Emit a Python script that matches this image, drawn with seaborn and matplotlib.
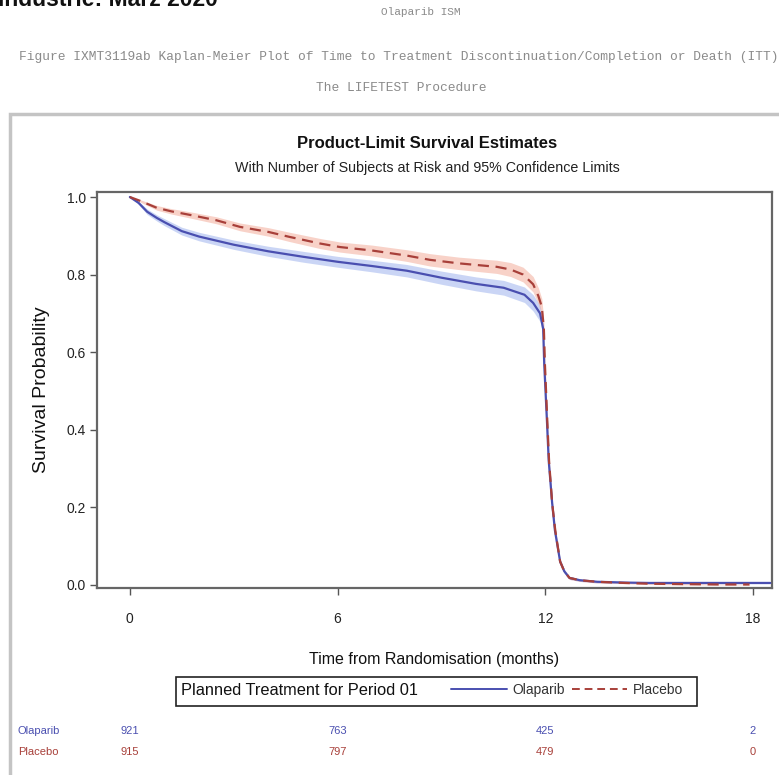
import matplotlib
matplotlib.use("Agg")
import matplotlib.pyplot as plt
import matplotlib.transforms as mtransforms
from matplotlib.lines import Line2D
from matplotlib.patches import Rectangle
import numpy as np
import pandas as pd
import seaborn as sns

# Kaplan-Meier estimates (months, survival probability) and 95% CI half-widths
olaparib_t = [0, 0.25, 0.5, 0.78, 1.0, 1.5, 2.0, 3.0, 4.0, 5.0, 6.0, 7.0, 8.0, 9.0,
              10.0, 10.8, 11.4, 11.65, 11.85, 11.94, 11.97, 12.05, 12.1, 12.2, 12.28,
              12.43, 12.55, 12.7, 13.0, 13.5, 14.3, 15.0, 16.0, 17.0, 18.0, 18.5]
olaparib_s = [1.0, 0.985, 0.962, 0.946, 0.935, 0.912, 0.898, 0.877, 0.860, 0.846, 0.833,
              0.822, 0.810, 0.792, 0.776, 0.766, 0.748, 0.727, 0.700, 0.660, 0.570, 0.420,
              0.320, 0.210, 0.140, 0.060, 0.035, 0.018, 0.012, 0.008, 0.006, 0.005, 0.005,
              0.005, 0.005, 0.005]
olaparib_ci = [0.0, 0.004, 0.007, 0.008, 0.009, 0.010, 0.011, 0.012, 0.013, 0.014, 0.014,
               0.015, 0.016, 0.017, 0.018, 0.019, 0.020, 0.021, 0.021, 0.020, 0.018, 0.015,
               0.013, 0.011, 0.009, 0.006, 0.005, 0.004, 0.003, 0.003, 0.002, 0.002, 0.002,
               0.002, 0.002, 0.002]

placebo_t = [0, 0.3, 0.78, 1.2, 1.73, 2.5, 3.18, 4.0, 4.62, 5.5, 6.07, 7.0, 8.0, 8.67,
             9.5, 10.6, 11.0, 11.36, 11.65, 11.8, 11.9, 11.96, 11.99, 12.06, 12.11, 12.2,
             12.29, 12.43, 12.55, 12.7, 13.0, 13.5, 14.3, 15.0, 16.0, 17.0, 17.9]
placebo_s = [1.0, 0.99, 0.972, 0.963, 0.954, 0.940, 0.923, 0.910, 0.897, 0.880, 0.871,
             0.862, 0.849, 0.838, 0.829, 0.820, 0.813, 0.800, 0.775, 0.745, 0.717, 0.660,
             0.570, 0.420, 0.320, 0.210, 0.140, 0.060, 0.035, 0.018, 0.012, 0.008, 0.005,
             0.003, 0.002, 0.001, 0.001]
placebo_ci = [0.0, 0.003, 0.006, 0.007, 0.008, 0.009, 0.010, 0.011, 0.012, 0.013, 0.013,
              0.014, 0.015, 0.016, 0.016, 0.017, 0.018, 0.019, 0.020, 0.021, 0.021, 0.020,
              0.018, 0.015, 0.013, 0.011, 0.009, 0.006, 0.005, 0.004, 0.003, 0.003, 0.002,
              0.002, 0.002, 0.001, 0.001]

groups = ["Olaparib", "Placebo"]
risk_times = [0, 6, 12, 18]
olaparib_at_risk = [921, 763, 425, 2]
placebo_at_risk = [915, 797, 479, 0]

x_ticks = [0, 6, 12, 18]
y_ticks = [0.0, 0.2, 0.4, 0.6, 0.8, 1.0]

blue = "#4a4fb0"
red = "#a8403a"
blue_band = "#9fb4ee"
red_band = "#f3ad9c"

sns.set_theme(style="white")
sans = ["Liberation Sans Narrow", "Liberation Sans", "DejaVu Sans"]
plt.rcParams["font.family"] = sans

df = pd.concat([
    pd.DataFrame({"time": olaparib_t, "surv": olaparib_s, "ci": olaparib_ci, "group": "Olaparib"}),
    pd.DataFrame({"time": placebo_t, "surv": placebo_s, "ci": placebo_ci, "group": "Placebo"}),
], ignore_index=True)

fig = plt.figure(figsize=(7.79, 7.75), dpi=100)
ax = fig.add_axes([0.1245, 0.2413, 0.8665, 0.511])

# confidence bands
for g, col in zip(groups, [blue_band, red_band]):
    d = df[df["group"] == g]
    ax.fill_between(d["time"], d["surv"] - d["ci"], d["surv"] + d["ci"],
                    color=col, alpha=0.55, lw=0, zorder=1)

sns.lineplot(data=df, x="time", y="surv", hue="group", style="group",
             palette={"Olaparib": blue, "Placebo": red},
             dashes={"Olaparib": "", "Placebo": (5, 3)},
             sort=False, estimator=None, lw=1.6, legend=False, ax=ax, zorder=3)

ax.set_xlim(-0.95, 18.55)
ax.set_ylim(-0.008, 1.013)
ax.set_xticks(x_ticks)
ax.set_yticks(y_ticks)
ax.set_xticklabels([str(v) for v in x_ticks], fontsize=10, color="#222222")
ax.set_yticklabels([f"{v:.1f}" for v in y_ticks], fontsize=10, color="#222222")
ax.tick_params(axis="both", direction="out", length=5, width=1.0, color="#555555",
               bottom=True, left=True, pad=12)
ax.tick_params(axis="y", pad=3)
for s in ax.spines.values():
    s.set_color("#666666")
    s.set_linewidth(1.6)
ax.set_xlabel("Time from Randomisation (months)", fontsize=11.5, color="#111111", labelpad=19)
ax.set_ylabel("Survival Probability", fontsize=14, color="#111111", labelpad=12)

# titles
fig.text(0.548, 0.815, "Product-Limit Survival Estimates", ha="center", va="center",
         fontsize=12, fontweight="bold", color="#111111")
fig.text(0.548, 0.783, "With Number of Subjects at Risk and 95% Confidence Limits",
         ha="center", va="center", fontsize=10.3, color="#222222")

# report header
mono = ["Liberation Mono", "DejaVu Sans Mono"]
fig.text(0.54, 0.985, "Olaparib ISM", ha="center", va="center", fontsize=8,
         family=mono, color="#8a8a8a")
fig.text(0.025, 0.927,
         "Figure IXMT3119ab Kaplan-Meier Plot of Time to Treatment Discontinuation/Completion or Death (ITT)",
         ha="left", va="center", fontsize=9.3, family=mono, color="#8a8a8a")
fig.text(0.515, 0.887, "The LIFETEST Procedure", ha="center", va="center", fontsize=9.3,
         family=mono, color="#8a8a8a")
fig.text(0.28, 1.0, "Industrie: März 2020", ha="right", va="center", fontsize=16.5,
         fontweight="bold", family=["Liberation Sans", "DejaVu Sans"], color="#111111")

# outer frame of the graph area
fig.patches.append(Rectangle((0.013, -0.05), 1.05, 0.903, transform=fig.transFigure,
                             fill=False, edgecolor="#c4c4c4", lw=2.5, zorder=0))

# legend box
leg_handles = [Line2D([], [], color=blue, lw=1.4),
               Line2D([], [], color=red, lw=1.4, dashes=(4, 2.5))]
leg = fig.legend(leg_handles, groups, loc="center", bbox_to_anchor=(0.728, 0.1095),
                 ncol=2, frameon=False, fontsize=10, handlelength=4.0,
                 handletextpad=0.4, columnspacing=0.5, borderpad=0.2)
for t in leg.get_texts():
    t.set_color("#333333")
fig.text(0.232, 0.1095, "Planned Treatment for Period 01", ha="left", va="center",
         fontsize=11.8, color="#111111")
fig.patches.append(Rectangle((0.226, 0.089), 0.669, 0.037, transform=fig.transFigure,
                             fill=False, edgecolor="#222222", lw=1.2, zorder=5))

# number at risk table
trans = mtransforms.blended_transform_factory(ax.transData, fig.transFigure)
fig.text(0.023, 0.057, "Olaparib", ha="left", va="center", fontsize=8, color=blue)
fig.text(0.023, 0.030, "Placebo", ha="left", va="center", fontsize=8, color=red)
for tm, n in zip(risk_times, olaparib_at_risk):
    ax.text(tm, 0.057, str(n), transform=trans, ha="center", va="center",
            fontsize=8, color=blue, clip_on=False)
for tm, n in zip(risk_times, placebo_at_risk):
    ax.text(tm, 0.030, str(n), transform=trans, ha="center", va="center",
            fontsize=8, color=red, clip_on=False)

fig.savefig("out.png", dpi=100)
